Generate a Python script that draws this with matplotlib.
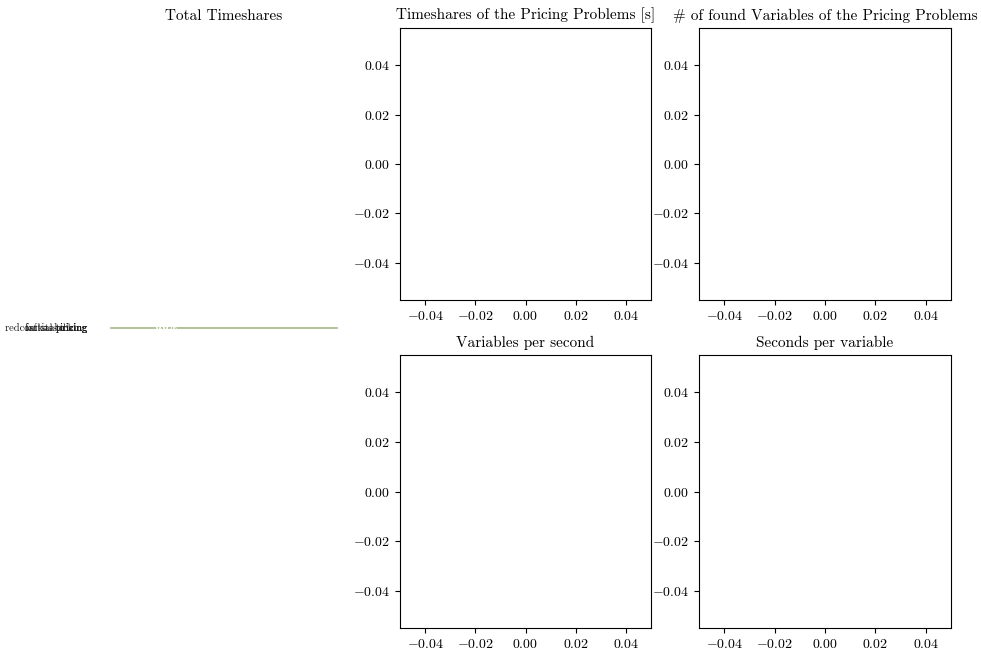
import matplotlib
matplotlib.use("Agg")
import matplotlib.pyplot as plt

plt.rcParams['font.family'] = 'serif'
plt.rcParams['font.serif'] = ['cmr10']
plt.rcParams['mathtext.fontset'] = 'cm'
plt.rcParams['axes.formatter.use_mathtext'] = True
plt.rcParams['axes.unicode_minus'] = True
plt.rcParams['axes.titlesize'] = 11

# total timeshares (all zero in the source run)
share_names = ['redcost stabilizing', 'initial pricing', 'farkas pricing', 'sticking']
shares = [0, 0, 0, 0]
total = [1]

# pricing problem panels are empty
titles = ['Timeshares of the Pricing Problems [s]',
          '# of found Variables of the Pricing Problems',
          'Variables per second',
          'Seconds per variable']
xlim = (-0.05, 0.05)
ylim = (-0.055, 0.055)

W, H = 981, 653
fig = plt.figure(figsize=(W/100, H/100), dpi=100)

def px_axes(x0, y0, x1, y1):
  return fig.add_axes([x0/W, 1-y1/H, (x1-x0)/W, (y1-y0)/H])

ax0 = px_axes(81.5, 28, 366.5, 628)
ax0.pie(total, colors=['#a8ba8a'],
        wedgeprops={'edgecolor': '#a8ba8a', 'linewidth': 0.6})
ax0.pie(shares, labels=share_names, autopct='%1.1f%%', normalize=False,
        startangle=180, labeldistance=1.2, pctdistance=0.5,
        textprops={'color': '0.1', 'fontsize': 7.5})
for t in ax0.texts:
  if t.get_text().endswith('%'):
    t.set_color('white')
ax0.set_aspect('auto')
ax0.set_ylim(-2000, 2000)
ax0.set_title('Total Timeshares')

boxes = [(400, 28, 651, 300), (699, 28, 951, 300),
         (400, 355, 651, 628), (699, 355, 951, 628)]
for box, title in zip(boxes, titles):
  ax = px_axes(*box)
  ax.set_xlim(*xlim)
  ax.set_ylim(*ylim)
  ax.set_xticks([-0.04, -0.02, 0.0, 0.02, 0.04])
  ax.set_yticks([-0.04, -0.02, 0.0, 0.02, 0.04])
  ax.set_title(title)

fig.savefig('out.png', dpi=100)
